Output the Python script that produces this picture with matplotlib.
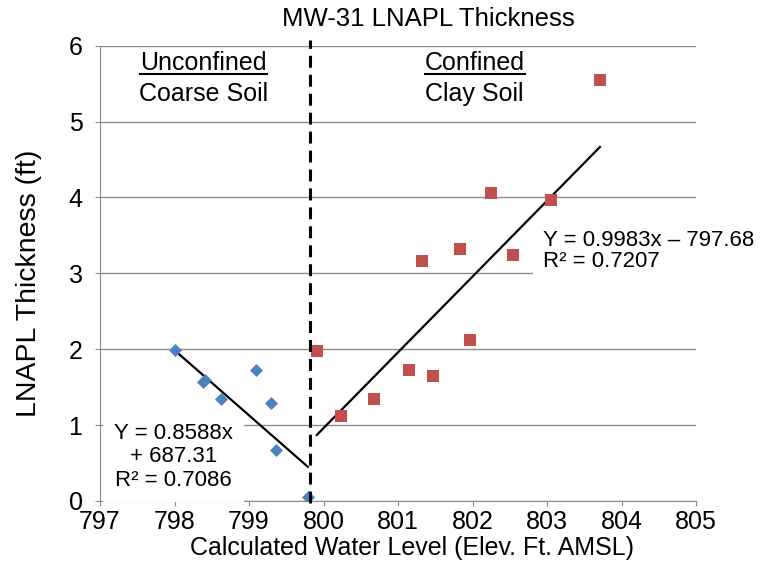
import matplotlib
matplotlib.use("Agg")
import matplotlib.pyplot as plt
from matplotlib.lines import Line2D
import numpy as np

plt.rcParams['font.family'] = ['Liberation Sans', 'DejaVu Sans']

# Data
unconf_x = [798.00, 798.38, 798.41, 798.62, 799.09, 799.29, 799.36, 799.79]
unconf_y = [1.99, 1.57, 1.59, 1.34, 1.72, 1.29, 0.67, 0.05]
conf_x = [799.91, 800.23, 800.68, 801.15, 801.47, 801.32, 801.83, 801.97, 802.25, 802.55, 803.05, 803.71]
conf_y = [1.98, 1.12, 1.34, 1.72, 1.65, 3.16, 3.32, 2.12, 4.06, 3.24, 3.97, 5.55]
boundary_x = 799.82
unconf_slope, unconf_icpt = -0.8588, 687.31
conf_slope, conf_icpt = 0.9983, -797.68
x_ticks = [797, 798, 799, 800, 801, 802, 803, 804, 805]
y_ticks = [0, 1, 2, 3, 4, 5, 6]

W, H = 760, 565
fig = plt.figure(figsize=(W/100, H/100), dpi=100)
ax = fig.add_axes([100/W, 1-501/H, 596/W, (501-45.6)/H])

grid_c = '#8c8c8c'
ax.set_xlim(797, 805)
ax.set_ylim(0, 6)
ax.set_xticks(x_ticks)
ax.set_yticks(y_ticks)
ax.yaxis.grid(True, color=grid_c, lw=1.0)
ax.set_axisbelow(True)
for s in ['top', 'right']:
    ax.spines[s].set_visible(False)
for s in ['left', 'bottom']:
    ax.spines[s].set_color(grid_c)
ax.tick_params(axis='both', colors=grid_c, length=3.6, labelsize=18, labelcolor='black')
ax.tick_params(axis='y', pad=9)
ax.tick_params(axis='x', pad=3)

# eq labels with white boxes
ax.text(797.99, 0.58, "Y = 0.8588x\n+ 687.31\nR\u00b2 = 0.7086", ha='center', va='center',
        fontsize=16, linespacing=1.17, zorder=4,
        bbox=dict(facecolor='white', edgecolor='none', pad=8))
ax.text(802.94, 3.29, "Y = 0.9983x \u2013 797.68\nR\u00b2 = 0.7207", ha='left', va='center',
        fontsize=16, linespacing=1.0, zorder=4,
        bbox=dict(facecolor='white', edgecolor='none', pad=7))

# trend lines
ux = np.array([min(unconf_x), max(unconf_x)])
ax.plot(ux, unconf_slope*ux + unconf_icpt, color='black', lw=1.6, zorder=5)
cx = np.array([min(conf_x), max(conf_x)])
ax.plot(cx, conf_slope*cx + conf_icpt, color='black', lw=1.6, zorder=5)

# points
ax.scatter(unconf_x, unconf_y, marker='D', s=44, color='#4F81BD', zorder=6, linewidths=0)
ax.scatter(conf_x, conf_y, marker='s', s=64, color='#C0504D', zorder=6, linewidths=0)

# boundary
ax.plot([boundary_x, boundary_x], [-0.03, 6.08], color='black', lw=2.2, ls=(0, (3.9, 2.3)),
        clip_on=False, zorder=7)

# region labels
t1 = ax.text(798.39, 5.77, "Unconfined", ha='center', va='center', fontsize=18)
ax.text(798.39, 5.36, "Coarse Soil", ha='center', va='center', fontsize=18)
t2 = ax.text(802.03, 5.77, "Confined", ha='center', va='center', fontsize=18)
ax.text(802.03, 5.36, "Clay Soil", ha='center', va='center', fontsize=18)

fig.text(428/W, 1-19.5/H, "MW-31 LNAPL Thickness", ha='center', va='center', fontsize=18.5)
fig.text(412/W, 1-548.5/H, "Calculated Water Level (Elev. Ft. AMSL)", ha='center', va='center', fontsize=18)
fig.text(29/W, 1-283/H, "LNAPL Thickness (ft)", ha='center', va='center', rotation=90, fontsize=20.5)

fig.canvas.draw()
r = fig.canvas.get_renderer()
for t in (t1, t2):
    bb = t.get_window_extent(r)
    y = bb.y0 + 1
    fig.add_artist(Line2D([bb.x0/fig.bbox.width, bb.x1/fig.bbox.width],
                          [y/fig.bbox.height, y/fig.bbox.height],
                          transform=fig.transFigure, color='black', lw=1.5))

fig.savefig('out.png', dpi=100)
